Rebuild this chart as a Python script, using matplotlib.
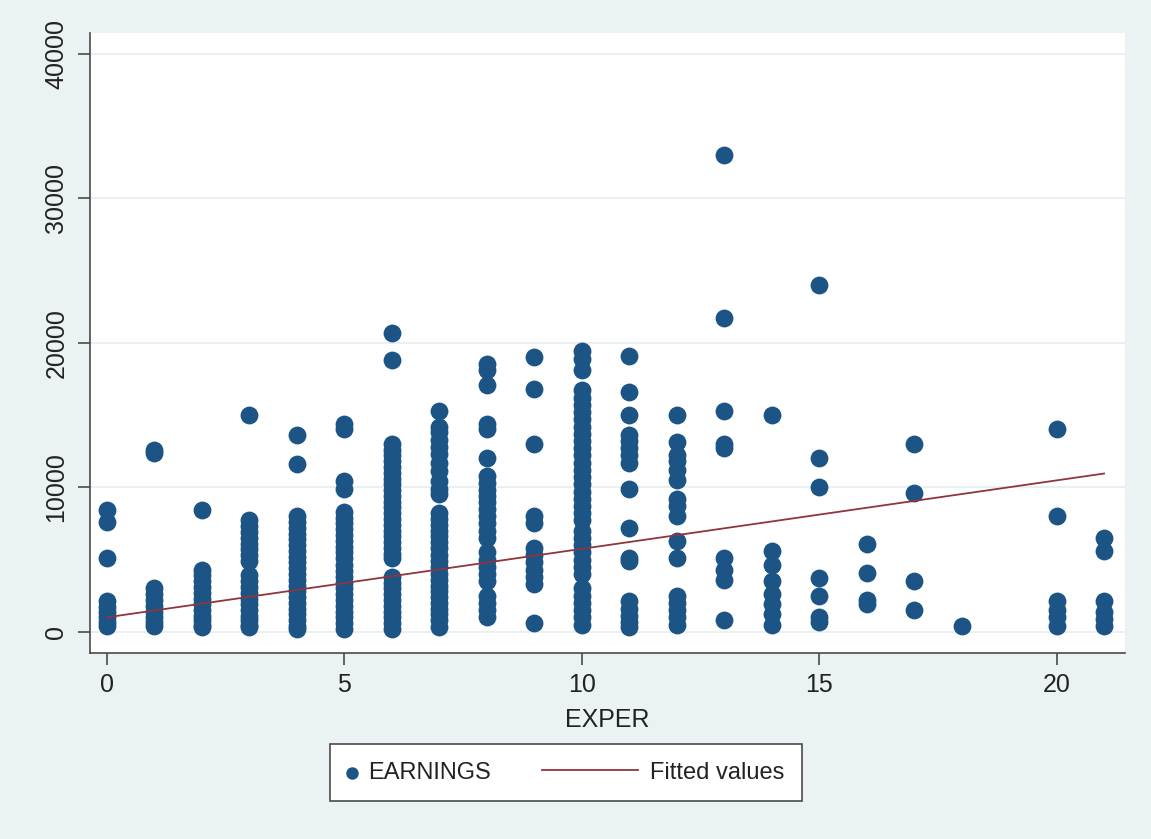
import numpy as np
import matplotlib.pyplot as plt
from matplotlib.lines import Line2D
from matplotlib.legend_handler import HandlerLine2D

# EARNINGS by years of experience
exper_levels = [0, 1, 2, 3, 4, 5, 6, 7, 8, 9, 10, 11, 12, 13, 14, 15, 16, 17, 18, 20, 21]

e0 = [8400, 7600, 5100, 2100, 1700, 1400, 1000, 700, 400]
e1 = [12600, 12400, 3000, 2600, 2200, 1800, 1400, 1000, 700, 400]
e2 = [8400, 4300, 3900, 3500, 3100, 2700, 2300, 1900, 1500, 1100, 800, 500, 300]
e3 = [15000, 7700, 7300, 6900, 6500, 6100, 5700, 5300, 4900, 3900, 3500, 3100,
      2700, 2300, 1900, 1500, 1100, 800, 500, 300]
e4 = [13600, 11600, 8000, 7600, 7200, 6800, 6400, 6000, 5600, 5200, 4800, 4400,
      4000, 3600, 3200, 2800, 2400, 2000, 1600, 1200, 800, 400, 200]
e5 = [14400, 14000, 10400, 9900, 8300, 7900, 7500, 7100, 6700, 6300, 5900, 5500,
      5100, 4600, 4200, 3800, 3400, 3000, 2600, 2200, 1800, 1400, 1000, 600, 200]
e6 = [20700, 18800, 13000, 12600, 12200, 11800, 11400, 11000, 10600, 10200, 9800,
      9400, 9000, 8600, 8200, 7800, 7400, 7000, 6600, 6200, 5800, 5400, 5100,
      3800, 3400, 3000, 2600, 2200, 1800, 1400, 1000, 600, 200]
e7 = [15300, 14200, 13800, 13300, 12800, 12300, 11700, 11100, 10400, 9900, 9500,
      8200, 7800, 7400, 7000, 6600, 6200, 5800, 5300, 4900, 4500, 4000, 3600,
      3200, 2800, 2400, 2000, 1600, 1200, 800, 300]
e8 = [18500, 18100, 17100, 14400, 14000, 12000, 10800, 10300, 9800, 9400, 9000,
      8500, 8000, 7500, 7000, 6500, 5500, 5000, 4500, 4000, 3500, 2500, 2000,
      1500, 1000]
e9 = [19000, 16800, 13000, 8000, 7500, 5800, 5300, 4800, 4300, 3800, 3300, 600]
e10 = [19400, 18900, 18100, 16700, 16200, 15700, 15200, 14700, 14200, 13700,
       13200, 12700, 12200, 11700, 11200, 10700, 10200, 9700, 9200, 8700, 8200,
       7700, 7000, 6500, 6000, 5500, 5000, 4500, 4000, 3000, 2500, 2000, 1500,
       1000, 500]
e11 = [19100, 16600, 15000, 13600, 13200, 12700, 12200, 11700, 9900, 7200, 5100,
       4900, 2100, 1600, 1100, 700, 300]
e12 = [15000, 13100, 12200, 11800, 11200, 10500, 9200, 8700, 8000, 6300, 5100,
       2500, 2000, 1500, 1000, 500]
e13 = [33000, 21700, 15300, 13000, 12700, 5100, 4300, 3600, 800]
e14 = [15000, 5600, 4600, 3500, 2600, 1900, 1200, 500]
e15 = [24000, 12000, 10000, 3700, 2500, 1000, 700]
e16 = [6100, 4100, 2200, 1900]
e17 = [13000, 9600, 3500, 1500]
e18 = [400]
e20 = [14000, 8000, 2100, 1500, 1000, 400]
e21 = [6500, 5600, 2100, 1400, 900, 400]

earnings_cols = [e0, e1, e2, e3, e4, e5, e6, e7, e8, e9, e10, e11, e12, e13,
                 e14, e15, e16, e17, e18, e20, e21]

# fitted values line (endpoints)
fit_x = [0, 21]
fit_y = [1000, 10950]

exper = np.concatenate([[x] * len(c) for x, c in zip(exper_levels, earnings_cols)])
earnings = np.concatenate(earnings_cols)

navy = '#1c5585'
maroon = '#90353b'
bg = '#eaf2f3'
axcol = '#4a4a4a'

plt.rcParams['font.family'] = ['Liberation Sans', 'DejaVu Sans']
plt.rcParams['font.size'] = 18


class LongLineHandler(HandlerLine2D):
    # draws the legend line reaching left into the column gap
    def __init__(self, extra, **kw):
        super().__init__(**kw)
        self.extra = extra

    def create_artists(self, legend, orig_handle, xdescent, ydescent, width,
                       height, fontsize, trans):
        ext = self.extra * fontsize
        xdata = [-xdescent - ext, width - xdescent]
        y = (height - ydescent) / 2.0
        line = Line2D(xdata, [y, y])
        self.update_prop(line, orig_handle, legend)
        line.set_transform(trans)
        return [line]


fig = plt.figure(figsize=(11.51, 8.39), dpi=100)
fig.patch.set_facecolor(bg)
ax = fig.add_axes([0.078, 0.222, 0.899, 0.739])
ax.set_facecolor('white')

sc = ax.scatter(exper, earnings, s=165, color=navy, linewidths=0, zorder=3,
                label='EARNINGS')
fl, = ax.plot(fit_x, fit_y, color=maroon, lw=1.3, zorder=4, label='Fitted values')

ax.set_xlim(-0.36, 21.43)
ax.set_ylim(-1450, 41450)
ax.set_xticks([0, 5, 10, 15, 20])
ax.set_yticks([0, 10000, 20000, 30000, 40000])
ax.set_yticklabels(['0', '10000', '20000', '30000', '40000'], rotation=90, va='center')
ax.grid(axis='y', color='#e4eef0', lw=1.2, zorder=0)
ax.set_axisbelow(True)

for s in ['top', 'right']:
    ax.spines[s].set_visible(False)
for s in ['left', 'bottom']:
    ax.spines[s].set_color(axcol)
    ax.spines[s].set_linewidth(1.2)
ax.tick_params(axis='both', direction='out', length=8.5, width=1.2, color=axcol,
               labelcolor='#222222')
ax.tick_params(axis='x', pad=6)
ax.tick_params(axis='y', pad=7)
ax.set_xlabel('EXPER', color='#222222', labelpad=8)

leg = fig.legend([sc, fl], ['EARNINGS', 'Fitted values'], ncol=2,
                 loc='center', bbox_to_anchor=(0.4917, 0.079),
                 bbox_transform=fig.transFigure, fancybox=False,
                 edgecolor=axcol, facecolor='white', framealpha=1, fontsize=17,
                 handlelength=0.35, handletextpad=0.5, columnspacing=5.9,
                 borderpad=0.75, borderaxespad=0, markerscale=0.7,
                 scatterpoints=1,
                 handler_map={fl: LongLineHandler(3.7)})
leg.get_frame().set_linewidth(1.2)
for t in leg.get_texts():
    t.set_color('#222222')

fig.savefig('out.png', dpi=100, facecolor=bg)
